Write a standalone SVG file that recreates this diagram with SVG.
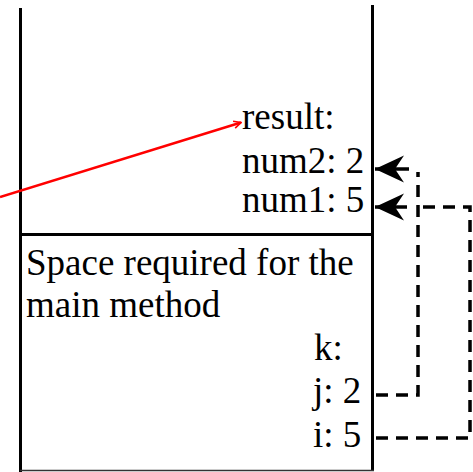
<svg xmlns="http://www.w3.org/2000/svg" width="473" height="472" viewBox="0 0 473 472">
<style>
.t{font-family:"Liberation Serif","Times New Roman",serif;font-size:37px;fill:#000}
.frame{stroke:#000;stroke-width:3;fill:none}
.dash{stroke:#000;stroke-width:3.5;fill:none;stroke-dasharray:12 8}
.solid{stroke:#000;stroke-width:3.5;fill:none}
</style>
<defs>
<marker id="stealth" viewBox="0 0 30 28" refX="30" refY="14" markerWidth="30" markerHeight="28" markerUnits="userSpaceOnUse" orient="auto">
<path d="M30,14 L1,0.5 L10,14 L1,27.5 Z" fill="#000"/>
</marker>
<marker id="redhead" viewBox="0 0 10 10" refX="9" refY="5" markerWidth="9" markerHeight="9" markerUnits="userSpaceOnUse" orient="auto">
<path d="M1,1 L9,5 L1,9" fill="none" stroke="#f00" stroke-width="1.8"/>
</marker>
</defs>
<g id="frame">
<line class="frame" x1="20.5" y1="8" x2="20.5" y2="472"/>
<line class="frame" x1="372.5" y1="5" x2="372.5" y2="471"/>
<line class="frame" x1="22" y1="234.5" x2="374" y2="234.5"/>
<line x1="20" y1="470.5" x2="374" y2="470.5" stroke="#333" stroke-width="1.5"/>
</g>
<g id="method-frame">
<text class="t" x="242" y="129">result:</text>
<text class="t" x="242" y="173">num2: 2</text>
<text class="t" x="242" y="212">num1: 5</text>
</g>
<g id="main-frame">
<text class="t" x="26" y="275">Space required for the</text>
<text class="t" x="26" y="317">main method</text>
<text class="t" x="314" y="360">k:</text>
<text class="t" x="313" y="403">j: 2</text>
<text class="t" x="313" y="447">i: 5</text>
</g>
<g id="connectors">
<line x1="0" y1="197" x2="241" y2="122.5" stroke="#f00" stroke-width="2.5" marker-end="url(#redhead)"/>
<path class="dash" d="M376,395 H418 V172"/>
<path class="solid" d="M409,169 H375" marker-end="url(#stealth)"/>
<path class="dash" d="M376,438 H470 V207 H417"/>
<path class="solid" d="M407,207 H375" marker-end="url(#stealth)"/>
</g>
</svg>
